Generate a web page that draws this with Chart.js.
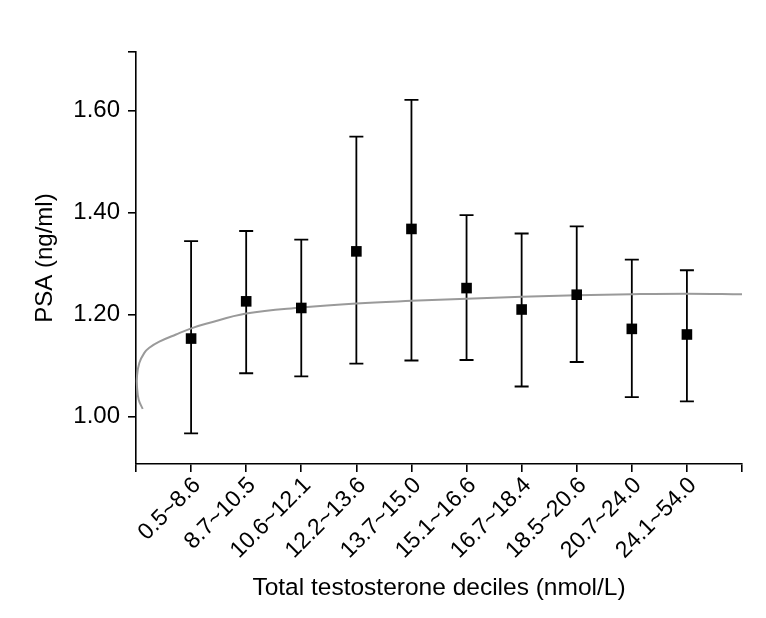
<!DOCTYPE html>
<html>
<head>
<meta charset="utf-8">
<script src="https://cdn.jsdelivr.net/npm/chart.js@4"></script>
<style>
  body { margin: 0; background: #fff; }
  #wrap { width: 766px; height: 618px; }
</style>
</head>
<body>
<div id="wrap"><canvas id="chart" width="766" height="618"></canvas></div>
<script>
const deciles = ['0.5~8.6', '8.7~10.5', '10.6~12.1', '12.2~13.6', '13.7~15.0',
  '15.1~16.6', '16.7~18.4', '18.5~20.6', '20.7~24.0', '24.1~54.0'];
const psaMean = [1.153, 1.226, 1.213, 1.324, 1.368, 1.252, 1.210, 1.239, 1.172, 1.161];
const psaUpper = [1.344, 1.364, 1.347, 1.549, 1.621, 1.395, 1.359, 1.373, 1.308, 1.287];
const psaLower = [0.967, 1.085, 1.079, 1.104, 1.110, 1.111, 1.059, 1.107, 1.038, 1.030];

// fitted curve (grey)
const fitX = [0.122, 0.049, 0.018, 0.018, 0.06, 0.151, 0.241, 0.423, 0.726, 1.029, 1.27,
  2.0, 3.0, 4.0, 5.0, 6.0, 7.0, 8.0, 9.0, 10.0, 11.0];
const fitY = [1.015, 1.033, 1.059, 1.079, 1.105, 1.125, 1.135, 1.147, 1.161, 1.174, 1.182,
  1.202, 1.214, 1.222, 1.227, 1.231, 1.235, 1.238, 1.240, 1.241, 1.240];

const yTicks = [1.0, 1.2, 1.4, 1.6];
const yMin = 0.907, yMax = 1.715;

const FONT = '"Liberation Sans", Arial, sans-serif';

// draws the whiskers under the square markers
const errorBars = {
  id: 'errorBars',
  beforeDatasetsDraw(chart) {
    const { ctx, scales: { x, y } } = chart;
    ctx.save();
    ctx.strokeStyle = '#000';
    ctx.lineWidth = 1.8;
    deciles.forEach((_, i) => {
      const px = x.getPixelForValue(i + 1);
      const top = y.getPixelForValue(psaUpper[i]);
      const bot = y.getPixelForValue(psaLower[i]);
      ctx.beginPath();
      ctx.moveTo(px, top); ctx.lineTo(px, bot);
      ctx.moveTo(px - 7, top); ctx.lineTo(px + 7, top);
      ctx.moveTo(px - 7, bot); ctx.lineTo(px + 7, bot);
      ctx.stroke();
    });
    ctx.restore();
  }
};

new Chart(document.getElementById('chart'), {
  type: 'scatter',
  data: {
    datasets: [
      {
        label: 'PSA',
        data: psaMean.map((v, i) => ({ x: i + 1, y: v })),
        pointStyle: 'rect',
        pointRadius: 7.5,
        pointHoverRadius: 7.5,
        backgroundColor: '#000',
        borderColor: '#000',
        borderWidth: 0,
        clip: false
      },
      {
        label: 'fit',
        data: fitX.map((v, i) => ({ x: v, y: fitY[i] })),
        showLine: true,
        pointRadius: 0,
        borderColor: '#9a9a9a',
        borderWidth: 2,
        tension: 0.4,
        clip: false
      }
    ]
  },
  options: {
    responsive: false,
    animation: false,
    layout: { padding: { top: 52, right: 24, left: 0, bottom: 0 } },
    plugins: { legend: { display: false }, tooltip: { enabled: false } },
    scales: {
      x: {
        type: 'linear',
        min: 0,
        max: 11,
        afterBuildTicks: s => { s.ticks = Array.from({ length: 12 }, (_, i) => ({ value: i })); },
        afterFit: s => { s.height = 154; },
        ticks: {
          minRotation: 45,
          maxRotation: 45,
          autoSkip: false,
          padding: 0,
          labelOffset: 6,
          color: '#000',
          font: { family: FONT, size: 23 },
          callback: v => (v >= 1 && v <= 10 ? deciles[v - 1] : '')
        },
        grid: { drawOnChartArea: false, drawTicks: true, tickLength: 8, color: '#000', lineWidth: 1.6 },
        border: { color: '#000', width: 1.6 },
        title: {
          display: true,
          text: 'Total testosterone deciles (nmol/L)',
          color: '#000',
          font: { family: FONT, size: 24.5 },
          padding: { top: 0, bottom: 15 }
        }
      },
      y: {
        min: yMin,
        max: yMax,
        afterBuildTicks: s => { s.ticks = yTicks.concat([yMax]).map(v => ({ value: v })); },
        afterFit: s => { s.width = 136; },
        ticks: {
          padding: 8,
          color: '#000',
          font: { family: FONT, size: 24 },
          callback: v => (yTicks.includes(v) ? v.toFixed(2) : '')
        },
        grid: { drawOnChartArea: false, drawTicks: true, tickLength: 8, color: '#000', lineWidth: 1.6 },
        border: { color: '#000', width: 1.6 },
        title: {
          display: true,
          text: 'PSA (ng/ml)',
          color: '#000',
          font: { family: FONT, size: 24 },
          padding: { top: 31, bottom: 0 }
        }
      }
    }
  },
  plugins: [errorBars]
});
</script>
</body>
</html>
